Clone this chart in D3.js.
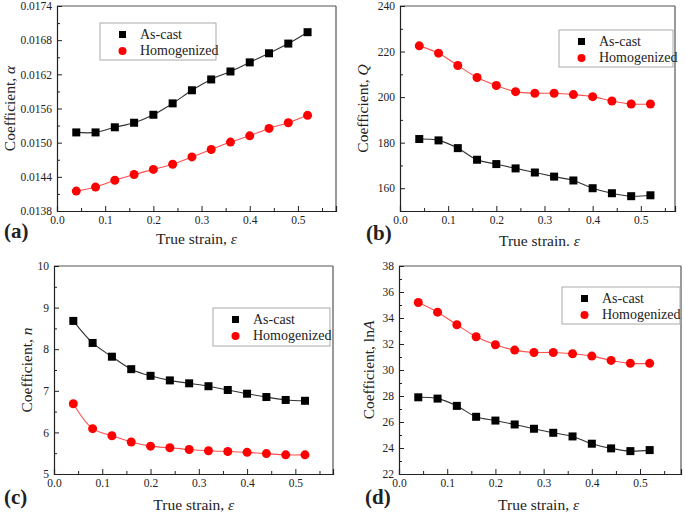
<!DOCTYPE html>
<html lang="en">
<head>
<meta charset="UTF-8">
<title>Coefficients vs true strain</title>
<script src="https://cdn.jsdelivr.net/npm/d3@7"></script>
<style>
    body { margin: 0; background: #fff; }
    text { font-family: "Liberation Serif", "Times New Roman", serif; fill: #222; }
</style>
</head>
<body>
<div id="chart"></div>
<script>
    // strain values shared by all four panels
    var strain = [0.04, 0.08, 0.12, 0.16, 0.20, 0.24, 0.28, 0.32, 0.36, 0.40, 0.44, 0.48, 0.52];
    var seriesNames = ["As-cast", "Homogenized"];
    var xTicks = [0.0, 0.1, 0.2, 0.3, 0.4, 0.5];

    // (a) alpha
    var alphaCast = [0.01518, 0.01518, 0.01527, 0.01535, 0.01549, 0.01569, 0.01592, 0.01611, 0.01625, 0.01641, 0.01657, 0.01674, 0.01694];
    var alphaHomo = [0.01415, 0.01422, 0.01434, 0.01444, 0.01453, 0.01462, 0.01475, 0.01488, 0.01501, 0.01512, 0.01525, 0.01535, 0.01548];
    var alphaTicks = [0.0138, 0.0144, 0.0150, 0.0156, 0.0162, 0.0168, 0.0174];

    // (b) Q
    var qCast = [181.6, 181.0, 177.6, 172.5, 170.6, 168.7, 166.9, 165.1, 163.4, 160.0, 157.8, 156.5, 156.9];
    var qHomo = [222.5, 219.3, 213.9, 208.6, 205.1, 202.4, 201.7, 201.7, 201.1, 200.2, 198.3, 197.0, 197.0];
    var qTicks = [160, 180, 200, 220, 240];

    // (c) n
    var nCast = [8.68, 8.15, 7.82, 7.52, 7.36, 7.25, 7.18, 7.11, 7.02, 6.93, 6.85, 6.78, 6.76];
    var nHomo = [6.69, 6.09, 5.92, 5.77, 5.67, 5.63, 5.59, 5.56, 5.54, 5.52, 5.49, 5.46, 5.46];
    var nTicks = [5, 6, 7, 8, 9, 10];

    // (d) lnA
    var lnACast = [27.90, 27.80, 27.24, 26.40, 26.11, 25.81, 25.48, 25.17, 24.89, 24.33, 23.97, 23.76, 23.84];
    var lnAHomo = [35.19, 34.45, 33.48, 32.56, 31.94, 31.53, 31.35, 31.35, 31.25, 31.07, 30.74, 30.51, 30.51];
    var lnATicks = [22, 24, 26, 28, 30, 32, 34, 36, 38];

    var W = 685, H = 514;
    var svg = d3.select("#chart").append("svg")
        .attr("width", W).attr("height", H);

    var panels = [
        { tag: "(a)", cast: alphaCast, homo: alphaHomo, ticks: alphaTicks, ydom: [0.0138, 0.0174], minor: 0.0003, fmt: d3.format(".4f"),
          ylab: ["Coefficient, ", "α"], xlab: "True strain, ", box: { l: 57, r: 336, t: 6, b: 211 }, xmax: 0.579,
          ylabX: 9, tagPos: [4, 238], xlabY: 244, legend: { x: 100, y: 23, w: 116, h: 37 } },
        { tag: "(b)", cast: qCast, homo: qHomo, ticks: qTicks, ydom: [150, 240], minor: 10, fmt: d3.format("d"),
          ylab: ["Coefficient, ", "Q"], xlab: "True strain. ", box: { l: 400, r: 675, t: 6, b: 211 }, xmax: 0.571,
          ylabX: 362, tagPos: [366, 240], xlabY: 246, legend: { x: 559, y: 30, w: 114, h: 37 } },
        { tag: "(c)", cast: nCast, homo: nHomo, ticks: nTicks, ydom: [5, 10], minor: 0.5, fmt: d3.format("d"),
          ylab: ["Coefficient, ", "n"], xlab: "True strain, ", box: { l: 54, r: 333, t: 266, b: 474 }, xmax: 0.578,
          ylabX: 26, tagPos: [4, 504], xlabY: 510, legend: { x: 213, y: 308, w: 117, h: 38 } },
        { tag: "(d)", cast: lnACast, homo: lnAHomo, ticks: lnATicks, ydom: [22, 38], minor: 1, fmt: d3.format("d"),
          ylab: ["Coefficient, ln", "A"], xlab: "True strain, ", box: { l: 399, r: 681, t: 266, b: 474 }, xmax: 0.585,
          ylabX: 368, tagPos: [365, 504], xlabY: 510, legend: { x: 562, y: 287, w: 118, h: 37 } }
    ];

    panels.forEach(function (p) {
        var b = p.box;
        var x = d3.scaleLinear().domain([0, p.xmax]).range([b.l, b.r]);
        var y = d3.scaleLinear().domain(p.ydom).range([b.b, b.t]);
        var g = svg.append("g");

        // frame: top and right
        g.append("line").attr("x1", b.l).attr("x2", b.r).attr("y1", b.t).attr("y2", b.t)
            .attr("stroke", "#555").attr("stroke-width", 1.2);
        g.append("line").attr("x1", b.r).attr("x2", b.r).attr("y1", b.t).attr("y2", b.b)
            .attr("stroke", "#555").attr("stroke-width", 1.2);

        // bottom axis, ticks pointing inward
        var xMinor = d3.range(0.05, p.xmax, 0.1);
        g.append("g").attr("transform", "translate(0," + b.b + ")")
            .call(d3.axisBottom(x).tickValues(xMinor).tickSize(-3).tickFormat(""))
            .call(a => a.select(".domain").remove())
            .selectAll("line").attr("stroke", "#222");
        var xa = g.append("g").attr("transform", "translate(0," + b.b + ")")
            .call(d3.axisBottom(x).tickValues(xTicks).tickSize(-5).tickPadding(5).tickFormat(d3.format(".1f")));
        xa.select(".domain").attr("stroke", "#222").attr("stroke-width", 1.2);
        xa.selectAll("line").attr("stroke", "#222");
        xa.selectAll("text").style("font-size", "11.5px").style("font-family", "Liberation Serif").attr("fill", "#222");

        // left axis
        var yMinor = d3.range(p.ydom[0], p.ydom[1] + p.minor / 2, p.minor)
            .filter(v => p.ticks.every(t => Math.abs(t - v) > p.minor / 10));
        g.append("g").attr("transform", "translate(" + b.l + ",0)")
            .call(d3.axisLeft(y).tickValues(yMinor).tickSize(-3).tickFormat(""))
            .call(a => a.select(".domain").remove())
            .selectAll("line").attr("stroke", "#222");
        var ya = g.append("g").attr("transform", "translate(" + b.l + ",0)")
            .call(d3.axisLeft(y).tickValues(p.ticks).tickSize(-5).tickPadding(5).tickFormat(p.fmt));
        ya.select(".domain").attr("stroke", "#222").attr("stroke-width", 1.2);
        ya.selectAll("line").attr("stroke", "#222");
        ya.selectAll("text").style("font-size", "11.5px").style("font-family", "Liberation Serif").attr("fill", "#222");

        // curves through the points
        var line = d3.line().curve(d3.curveCatmullRom.alpha(0.5))
            .x(function (d, i) { return x(strain[i]); })
            .y(function (d) { return y(d); });
        g.append("path").datum(p.cast).attr("d", line)
            .attr("fill", "none").attr("stroke", "#333").attr("stroke-width", 1.1);
        g.append("path").datum(p.homo).attr("d", line)
            .attr("fill", "none").attr("stroke", "#ff5050").attr("stroke-width", 1.1);

        g.selectAll(".sq").data(p.cast).enter().append("rect")
            .attr("x", function (d, i) { return x(strain[i]) - 4; })
            .attr("y", function (d) { return y(d) - 4; })
            .attr("width", 8).attr("height", 8).attr("fill", "#000");
        g.selectAll(".ci").data(p.homo).enter().append("circle")
            .attr("cx", function (d, i) { return x(strain[i]); })
            .attr("cy", function (d) { return y(d); })
            .attr("r", 4.5).attr("fill", "#ff0000");

        // legend
        var L = p.legend;
        g.append("rect").attr("x", L.x).attr("y", L.y).attr("width", L.w).attr("height", L.h)
            .attr("fill", "#fff").attr("stroke", "#aaa").attr("stroke-width", 1);
        g.append("rect").attr("x", L.x + 19).attr("y", L.y + 8).attr("width", 7).attr("height", 7).attr("fill", "#000");
        g.append("circle").attr("cx", L.x + 22.5).attr("cy", L.y + 28).attr("r", 4).attr("fill", "#ff0000");
        g.append("text").attr("x", L.x + 40).attr("y", L.y + 16).style("font-size", "14px").text(seriesNames[0]);
        g.append("text").attr("x", L.x + 40).attr("y", L.y + 32).style("font-size", "14px").text(seriesNames[1]);

        // axis titles
        var ymid = (b.t + b.b) / 2;
        var yl = g.append("text")
            .attr("transform", "translate(" + p.ylabX + "," + ymid + ") rotate(-90)")
            .attr("text-anchor", "middle").attr("dominant-baseline", "central")
            .style("font-size", "15.5px");
        yl.append("tspan").text(p.ylab[0]);
        yl.append("tspan").style("font-style", "italic").text(p.ylab[1]);

        var xl = g.append("text").attr("x", (b.l + x(0.55)) / 2 + 7).attr("y", p.xlabY)
            .attr("text-anchor", "middle").style("font-size", "15.5px");
        xl.append("tspan").text(p.xlab);
        xl.append("tspan").style("font-style", "italic").text("ε");

        g.append("text").attr("x", p.tagPos[0]).attr("y", p.tagPos[1])
            .style("font-size", "21px").style("font-weight", "bold").text(p.tag);
    });
</script>
</body>
</html>
